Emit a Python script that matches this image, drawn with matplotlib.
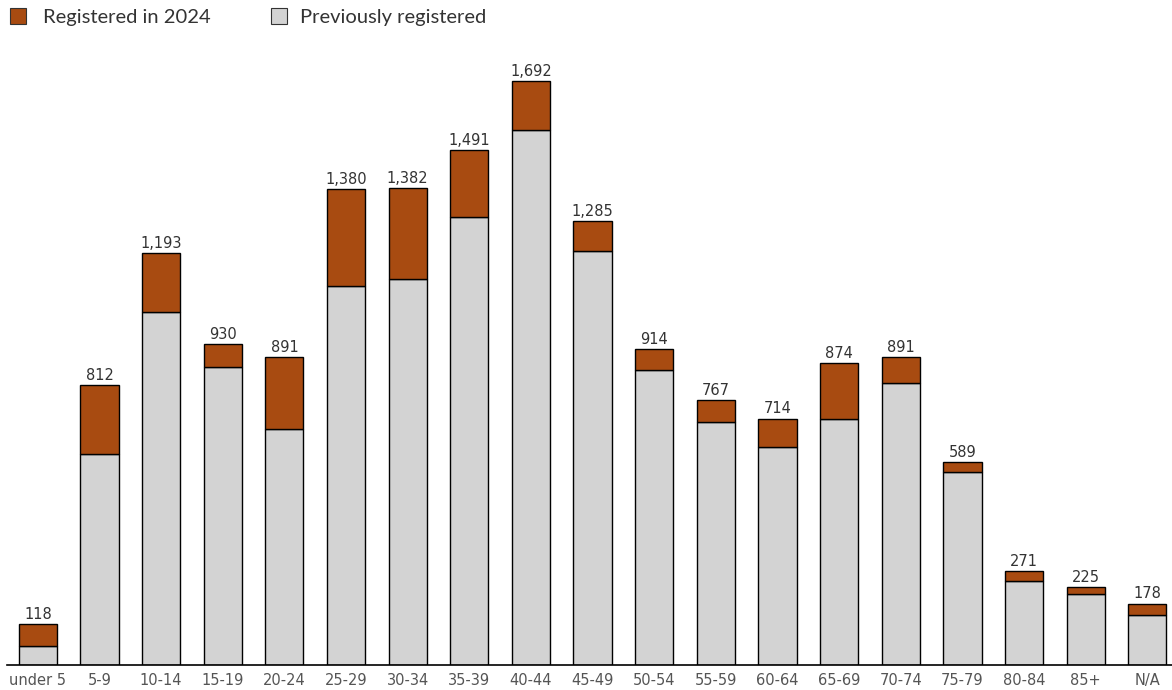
import matplotlib.pyplot as plt
import numpy as np

plt.rcParams['font.family'] = ['DejaVu Sans']

categories = ["under 5", "5-9", "10-14", "15-19", "20-24", "25-29", "30-34",
              "35-39", "40-44", "45-49", "50-54", "55-59", "60-64", "65-69",
              "70-74", "75-79", "80-84", "85+", "N/A"]
totals = [118, 812, 1193, 930, 891, 1380, 1382, 1491, 1692, 1285,
          914, 767, 714, 874, 891, 589, 271, 225, 178]
previous = [56, 611, 1023, 863, 684, 1098, 1118, 1298, 1550, 1199,
            855, 704, 632, 713, 817, 559, 243, 206, 145]
new_2024 = [t - p for t, p in zip(totals, previous)]

col_new = "#a84b11"
col_prev = "#d3d3d3"

fig = plt.figure(figsize=(11.72, 6.9), dpi=100)
ax = fig.add_axes([7 / 1172, 25 / 690, 1 - 7 / 1172, (665 - 40) / 690])

x = np.arange(len(categories))
ax.bar(x, previous, width=0.62, color=col_prev, edgecolor="black", linewidth=1)
ax.bar(x, new_2024, bottom=previous, width=0.62, color=col_new,
       edgecolor="black", linewidth=1)

for xi, t in zip(x, totals):
    ax.text(xi, t + 6, f"{t:,}", ha="center", va="bottom", fontsize=10.5,
            family="DejaVu Sans", color="#333333")

ax.set_xlim(-0.5, 18.4)
ax.set_ylim(0, (665 - 40) / 0.3452)
ax.set_xticks(x)
ax.set_xticklabels(categories, fontsize=10.5, color="#555555",
                   family="DejaVu Sans")
ax.tick_params(axis="x", length=0, pad=6)
ax.set_yticks([])
for s in ["top", "right", "left"]:
    ax.spines[s].set_visible(False)
ax.spines["bottom"].set_linewidth(1.2)

# legend drawn by hand at the top left
fig.patches.append(plt.Rectangle((10 / 1172, 1 - 24 / 690), 16 / 1172, 16 / 690,
                                 transform=fig.transFigure, facecolor=col_new,
                                 edgecolor="#333333", linewidth=0.8))
fig.text(43 / 1172, 1 - 17 / 690, "Registered in 2024", fontsize=14.5,
         family="Lato", color="#333333", va="center")
fig.patches.append(plt.Rectangle((271 / 1172, 1 - 24 / 690), 16 / 1172, 16 / 690,
                                 transform=fig.transFigure, facecolor=col_prev,
                                 edgecolor="#333333", linewidth=0.8))
fig.text(300 / 1172, 1 - 17 / 690, "Previously registered", fontsize=14.5,
         family="Lato", color="#333333", va="center")

fig.savefig("out.png", dpi=100)
